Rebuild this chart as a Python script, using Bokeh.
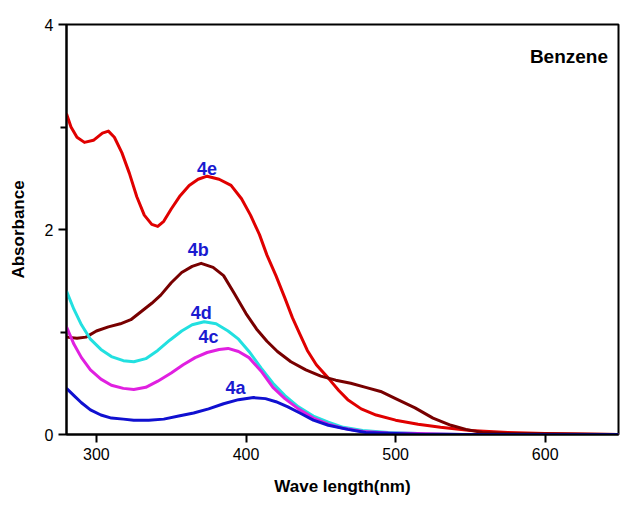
from bokeh.plotting import figure
from bokeh.models import FixedTicker, Range1d, Label
from bokeh.embed import file_html
from bokeh.resources import INLINE

# ---- data ----
wl_4e = [280, 283, 287, 292, 298, 304, 308, 312, 317, 322, 327, 332, 337, 341, 345, 350, 356, 362, 368, 374,
         382, 390, 397, 403, 409, 414, 420, 426, 431, 436, 441, 447, 455, 462, 468, 477, 487, 500, 515, 530,
         550, 575, 600, 649]
abs_4e = [3.13, 3.00, 2.90, 2.85, 2.87, 2.94, 2.96, 2.90, 2.75, 2.55, 2.32, 2.14, 2.05, 2.03, 2.08, 2.20, 2.33, 2.43, 2.49, 2.52,
          2.49, 2.43, 2.30, 2.14, 1.95, 1.75, 1.55, 1.33, 1.14, 0.98, 0.82, 0.68, 0.55, 0.43, 0.34, 0.25, 0.19, 0.14, 0.10, 0.07,
          0.04, 0.02, 0.01, 0.0]

wl_4b = [280, 287, 293, 300, 308, 316, 323, 330, 337, 343, 350, 357, 364, 370, 378, 385, 392, 400, 407, 414,
         421, 430, 440, 450, 460, 470, 480, 490, 500, 513, 525, 537, 547, 558, 575, 649]
abs_4b = [0.95, 0.94, 0.95, 1.01, 1.05, 1.08, 1.12, 1.20, 1.28, 1.36, 1.48, 1.58, 1.64, 1.67, 1.63, 1.55, 1.38, 1.18, 1.03, 0.91,
          0.81, 0.71, 0.63, 0.57, 0.53, 0.50, 0.46, 0.42, 0.35, 0.26, 0.16, 0.09, 0.05, 0.02, 0.01, 0.0]

wl_4d = [280, 285, 290, 296, 303, 310, 318, 325, 333, 341, 349, 357, 364, 372, 380, 388, 395, 402, 410, 418,
         426, 435, 445, 455, 465, 478, 495, 515, 545, 649]
abs_4d = [1.40, 1.22, 1.07, 0.93, 0.83, 0.76, 0.72, 0.71, 0.74, 0.82, 0.92, 1.01, 1.07, 1.10, 1.08, 1.01, 0.93, 0.81, 0.65, 0.50,
          0.38, 0.27, 0.18, 0.12, 0.07, 0.04, 0.02, 0.01, 0.0, 0.0]

wl_4c = [280, 285, 290, 296, 303, 310, 318, 325, 333, 341, 350, 358, 366, 374, 382, 388, 395, 402, 410, 418,
         426, 435, 445, 455, 465, 478, 495, 515, 545, 649]
abs_4c = [1.05, 0.88, 0.75, 0.63, 0.54, 0.48, 0.45, 0.44, 0.46, 0.52, 0.60, 0.68, 0.75, 0.80, 0.83, 0.84, 0.81, 0.75, 0.62, 0.46,
          0.35, 0.25, 0.16, 0.10, 0.06, 0.03, 0.015, 0.01, 0.0, 0.0]

wl_4a = [280, 285, 290, 296, 303, 310, 318, 325, 335, 345, 355, 365, 375, 385, 395, 405, 413, 420, 428, 436,
         445, 455, 468, 480, 500, 520, 649]
abs_4a = [0.45, 0.38, 0.31, 0.24, 0.19, 0.16, 0.15, 0.14, 0.14, 0.15, 0.18, 0.21, 0.25, 0.30, 0.34, 0.36, 0.35, 0.32, 0.27, 0.21,
          0.14, 0.09, 0.05, 0.02, 0.01, 0.0, 0.0]

label_text = ["4e", "4b", "4d", "4c", "4a"]
label_x = [374, 368, 370, 375, 393]
label_y = [2.60, 1.80, 1.19, 0.95, 0.45]

x_ticks = [300, 400, 500, 600]
y_ticks = [0, 2, 4]
y_minor = [1, 3]

FONT = "Liberation Sans"

p = figure(width=620, height=506, output_backend="svg", toolbar_location=None,
           x_range=Range1d(280, 649), y_range=Range1d(0, 4),
           min_border_left=66, min_border_right=2, min_border_top=24, min_border_bottom=72)

p.xgrid.visible = False
p.ygrid.visible = False
p.outline_line_color = "black"
p.outline_line_width = 2
p.outline_line_alpha = 1.0

# curves
p.line(wl_4e, abs_4e, line_color="#e00000", line_width=3, line_join="round")
p.line(wl_4b, abs_4b, line_color="#780000", line_width=3, line_join="round")
p.line(wl_4d, abs_4d, line_color="#22e0e0", line_width=3, line_join="round")
p.line(wl_4c, abs_4c, line_color="#e020e0", line_width=3, line_join="round")
p.line(wl_4a, abs_4a, line_color="#1010d0", line_width=3, line_join="round")

# curve labels as annotations
for t, lx, ly in zip(label_text, label_x, label_y):
    p.add_layout(Label(x=lx, y=ly, text=t, text_font=FONT, text_font_style="bold",
                       text_font_size="18px", text_color="#1a1ad0",
                       text_align="center", text_baseline="middle"))

p.add_layout(Label(x=642, y=3.69, text="Benzene", text_font=FONT, text_font_style="bold",
                   text_font_size="19px", text_color="black",
                   text_align="right", text_baseline="middle"))

# axes
p.xaxis.ticker = FixedTicker(ticks=x_ticks)
p.yaxis.ticker = FixedTicker(ticks=y_ticks, minor_ticks=y_minor)
p.xaxis.axis_label = "Wave length(nm)"
p.yaxis.axis_label = "Absorbance"

p.axis.axis_line_width = 2
p.axis.axis_line_color = "black"
p.axis.major_tick_line_width = 2
p.axis.major_tick_line_color = "black"
p.axis.minor_tick_line_width = 2
p.axis.minor_tick_line_color = "black"
p.axis.major_tick_in = 0
p.axis.major_tick_out = 8
p.axis.minor_tick_in = 0
p.axis.minor_tick_out = 6
p.axis.major_label_text_font = FONT
p.axis.major_label_text_font_size = "16px"
p.axis.major_label_text_color = "black"
p.axis.axis_label_text_font = FONT
p.axis.axis_label_text_font_style = "bold"
p.axis.axis_label_text_font_size = "17px"
p.axis.axis_label_text_color = "black"
p.axis.major_label_standoff = 5
p.axis.axis_label_standoff = 14

open("out.html", "w").write(file_html(p, INLINE))
